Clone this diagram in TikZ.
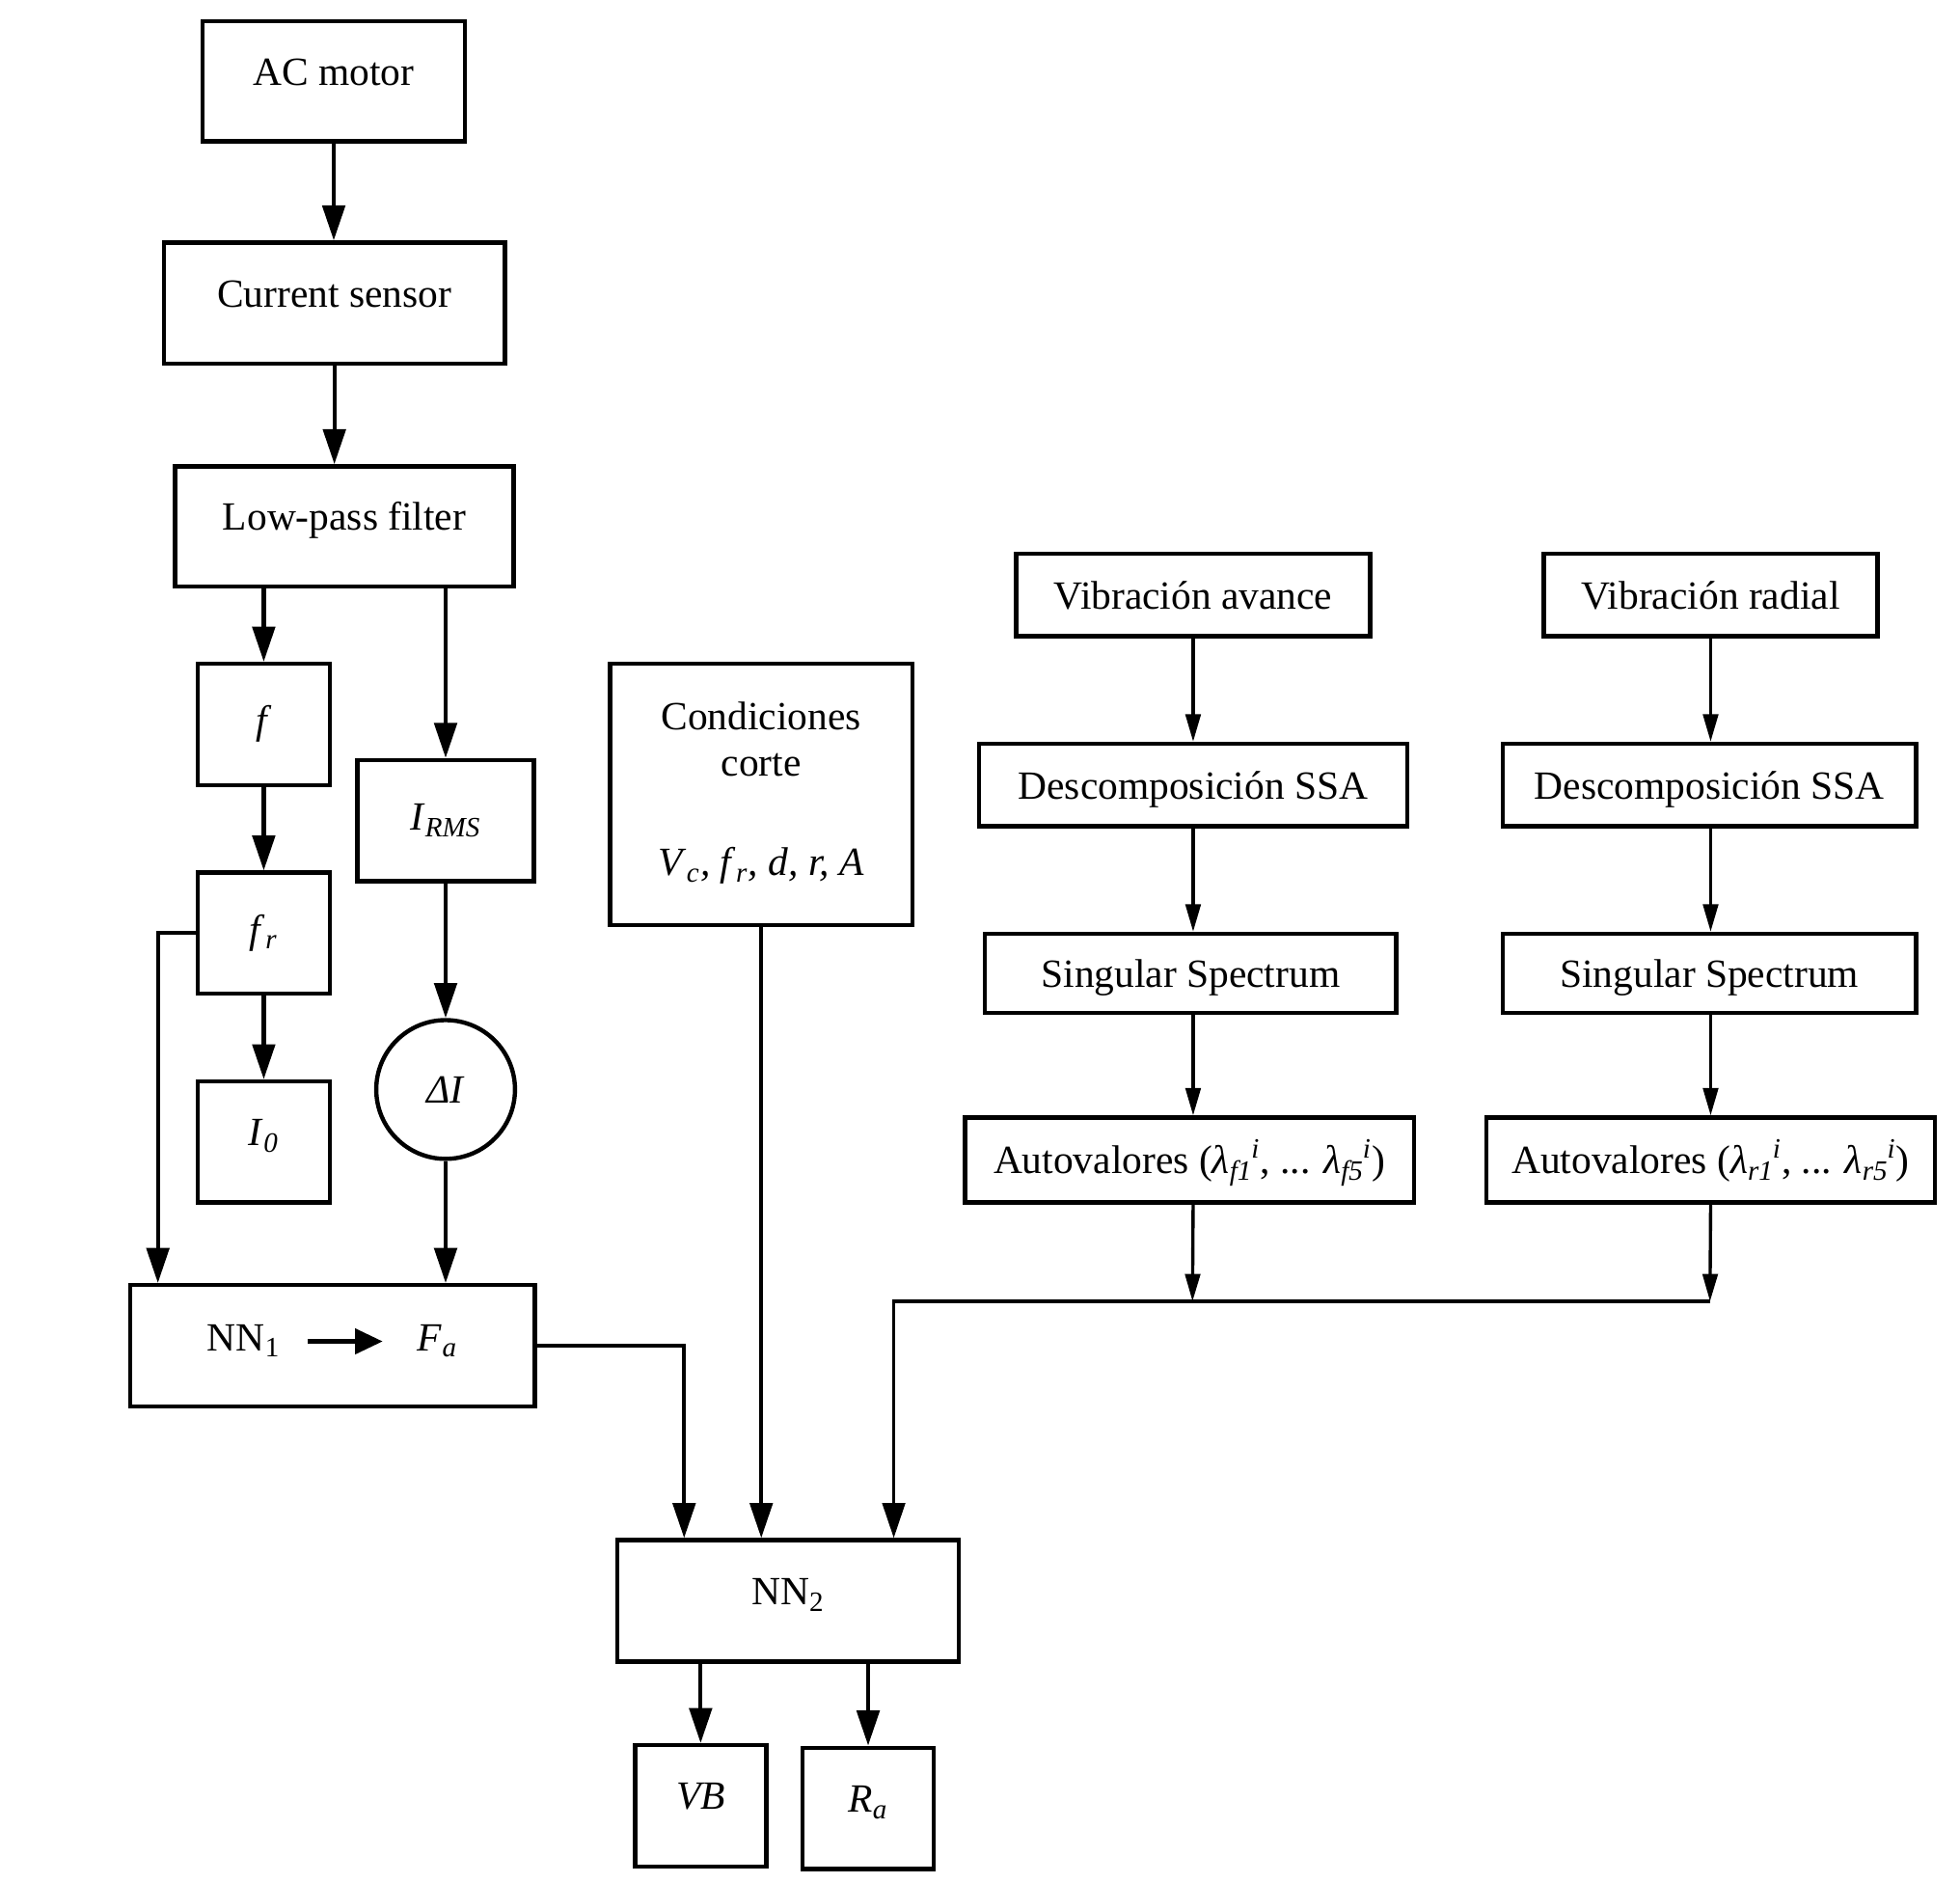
\documentclass[tikz,border=0pt]{standalone}
\usepackage{fontspec}
\setmainfont{Liberation Serif}
\usetikzlibrary{arrows.meta,calc}
\newcommand\sbsp[2]{\textsubscript{#1}\kern-0.5pt\textsuperscript{#2}}
\newcommand\fs{\fontsize{16}{18.5}\selectfont}
\begin{document}
\begin{tikzpicture}[x=0.5pt,y=-0.5pt,
  sz/.style 2 args={minimum width={#1*0.5pt}, minimum height={#2*0.5pt}},
  box/.style={draw, line width=1.7pt, inner sep=2pt, font=\fs, text height=11pt, text depth=3.5pt},
  upbox/.style={box, text depth=8pt},
  rbox/.style={box, text height=14.5pt},
  txt/.style={inner sep=0pt, font=\fs, text height=11pt, text depth=3.5pt},
  ctxt/.style={inner sep=0pt, font=\fs, align=center},
  circ/.style={draw, circle, line width=1.7pt, minimum size=55.5pt, inner sep=0pt, font=\fs},
  arr/.style={-{Triangle[length=14pt,width=9pt]}, line width=1.6pt},
  sarr/.style={-{Triangle[length=11pt,width=6pt]}, line width=1.3pt},
  iarr/.style={-{Triangle[length=11pt,width=10pt]}, line width=1.7pt}
]
\useasboundingbox (0,0) rectangle (1568,1505.5);

% left column
\node[upbox,sz={210}{96}] (acm) at (267,65) {AC motor};
\node[upbox,sz={273}{97}] (cs) at (267.5,242.5) {Current sensor};
\node[upbox,sz={271}{96}] (lpf) at (275.5,421) {Low-pass filter};
\node[box,sz={106}{97}] (f) at (211,579.5) {\textit{f}};
\node[box,sz={106}{97}] (fr) at (211,746.5) {\textit{f}\textsubscript{\textit{r}}};
\node[upbox,sz={106}{97}] (i0) at (211,913.5) {\textit{I}\textsubscript{\textit{0}}};
\node[box,sz={141}{97}] (irms) at (356.5,656.5) {\textit{I}\textsubscript{\textit{RMS}}};
\node[circ] (di) at (356.5,871.5) {\textit{ΔI}};
\node[box,sz={324}{97}] (nn1) at (266,1076.5) {};
\node[txt] (nn1a) at (195,1073) {NN\textsubscript{1}};
\node[txt] (nn1b) at (350,1073) {\textit{F}\textsubscript{\textit{a}}};
\draw[iarr] ([xshift=10.75pt]nn1a.east) -- ([xshift=-13.75pt]nn1b.west);

% cutting conditions
\node[box,sz={242}{209}] (cond) at (609,635.5) {};
\node[ctxt] (condt) at (609,591) {Condiciones\\corte};
\node[txt] (condv) at (609,693) {\textit{V}\textsubscript{\textit{c}}\textit{, f}\textsubscript{\textit{r}}\textit{, d, r, A}};

% NN2 and outputs
\node[upbox,sz={273}{97}] (nn2) at (630.5,1280.5) {NN\textsubscript{2}};
\node[upbox,sz={105}{97}] (vb) at (560.5,1444.5) {\textit{VB}};
\node[upbox,sz={105}{97}] (ra) at (694.5,1446.5) {\textit{R}\textsubscript{\textit{a}}};

% right columns
\node[rbox,sz={283}{66}] (va) at (954.5,476) {Vibración avance};
\node[rbox,sz={343}{66}] (dsa) at (954.5,628) {Descomposición SSA};
\node[rbox,sz={329}{63}] (ssa) at (952.5,778.5) {Singular Spectrum};
\node[rbox,sz={359}{68}] (aua) at (951.5,928) {Autovalores (\textit{λ}\sbsp{\textit{f1}}{\textit{i}}, ... \textit{λ}\sbsp{\textit{f5}}{\textit{i}})};
\node[rbox,sz={267}{66}] (vr) at (1368.5,476) {Vibración radial};
\node[rbox,sz={331}{66}] (dsr) at (1367.5,628) {Descomposición SSA};
\node[rbox,sz={331}{63}] (ssr) at (1367.5,778.5) {Singular Spectrum};
\node[rbox,sz={359}{68}] (aur) at (1368.5,928) {Autovalores (\textit{λ}\sbsp{\textit{r1}}{\textit{i}}, ... \textit{λ}\sbsp{\textit{r5}}{\textit{i}})};

\coordinate (bus0) at (715,1041);
\coordinate (bus1) at (954,1041);
\coordinate (bus2) at (1368,1041);

% connectors left
\draw[arr] (acm.south) -- (acm.south |- cs.north);
\draw[arr] (cs.south) -- (cs.south |- lpf.north);
\draw[arr] (lpf.south -| f.north) -- (f.north);
\draw[arr] (lpf.south -| irms.north) -- (irms.north);
\draw[arr] (f.south) -- (fr.north);
\draw[arr] (fr.south) -- (i0.north);
\draw[arr] (irms.south) -- (di.north);
\draw[arr] (fr.west) -| ($(nn1.north west)+(24,0)$);
\draw[arr] (di.south) -- (di.south |- nn1.north);
\draw[arr] (nn1.east) -| ($(nn2.north west)+(55,0)$);
\draw[arr] (cond.south) -- (cond.south |- nn2.north);
\draw[arr] (nn2.south -| vb.north) -- (vb.north);
\draw[arr] (nn2.south -| ra.north) -- (ra.north);

% connectors right
\draw[sarr] (va.south) -- (va.south |- dsa.north);
\draw[sarr] (dsa.south -| va.south) -- (ssa.north -| va.south);
\draw[sarr] (ssa.south -| va.south) -- (aua.north -| va.south);
\draw[sarr] (aua.south -| va.south) -- (bus1);
\draw[sarr] (vr.south) -- (vr.south |- dsr.north);
\draw[sarr] (dsr.south -| vr.south) -- (ssr.north -| vr.south);
\draw[sarr] (ssr.south -| vr.south) -- (aur.north -| vr.south);
\draw[sarr] (aur.south -| vr.south) -- (bus2);
\draw[arr, line width=1.4pt] (bus2) -- (bus0) -- (bus0 |- nn2.north);
\end{tikzpicture}
\end{document}
